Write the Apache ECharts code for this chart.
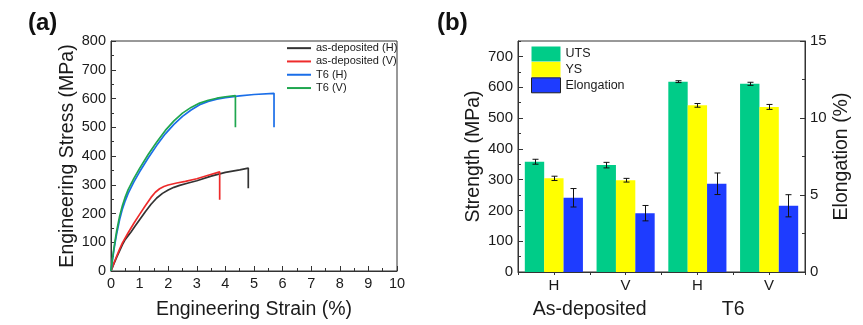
<!DOCTYPE html>
<html>
<head>
<meta charset="utf-8">
<script src="https://cdn.jsdelivr.net/npm/echarts@6/dist/echarts.min.js"></script>
<style>html,body{margin:0;padding:0;background:#fff}#c{width:863px;height:325px}</style>
</head>
<body>
<div id="c"></div>
<script>
// ---- Panel (a): stress-strain curves [strain %, stress MPa]
const asDepH = [[0,0],[0.1,25],[0.2,48],[0.3,70],[0.4,92],[0.5,110],[0.6,123],[0.7,136],[0.85,157],[1.0,178],[1.2,206],[1.4,232],[1.6,254],[1.8,270],[2.0,282],[2.2,291],[2.4,298],[2.7,306],[3.0,314],[3.5,330],[4.0,343],[4.5,352],[4.8,358],[4.8,288]];
const asDepV = [[0,0],[0.1,27],[0.2,52],[0.3,76],[0.4,98],[0.6,133],[0.8,166],[1.0,197],[1.2,227],[1.4,256],[1.55,274],[1.7,286],[1.85,294],[2.0,299],[2.3,306],[2.6,312],[3.0,321],[3.4,333],[3.8,345],[3.8,248]];
const t6H = [[0,0],[0.05,38],[0.1,72],[0.15,102],[0.2,130],[0.3,178],[0.4,216],[0.5,245],[0.6,270],[0.8,310],[1.0,345],[1.3,393],[1.6,437],[1.9,477],[2.2,510],[2.5,538],[2.8,560],[3.1,578],[3.4,590],[3.7,598],[4.0,603],[4.5,609],[5.0,614],[5.7,618],[5.7,500]];
const t6V = [[0,0],[0.05,42],[0.1,78],[0.15,110],[0.2,140],[0.3,190],[0.4,228],[0.5,258],[0.6,283],[0.8,322],[1.0,357],[1.3,405],[1.6,449],[1.9,489],[2.2,522],[2.5,549],[2.8,569],[3.1,584],[3.4,594],[3.7,601],[4.0,606],[4.35,610],[4.35,500]];
const lineNames = ['as-deposited (H)','as-deposited (V)','T6 (H)','T6 (V)'];

// ---- Panel (b): bar chart
const categories = ['H','V','H','V'];
const groups = ['As-deposited','T6'];
const uts = [358, 347, 618, 611];
const utsErr = [8, 9, 3, 5];
const ys = [304, 298, 541, 536];
const ysErr = [7, 6, 6, 8];
const elong = [4.82, 3.82, 5.73, 4.30];
const elongErr = [0.6, 0.5, 0.7, 0.72];
const barNames = ['UTS','YS','Elongation'];
const strengthTicks = [0,100,200,300,400,500,600,700];
const elongTicks = [0,5,10,15];

const FONT = 'Liberation Sans, Arial, sans-serif';
const TXT = '#1a1a1a';
const AX = '#333';

const chart = echarts.init(document.getElementById('c'), null, {renderer:'canvas'});

const CAT_GAP = 0.19;
function errSeries(name, vals, errs, k, yIdx){
  return {
    type:'custom', name: name, xAxisIndex:1, yAxisIndex:yIdx, z:5, silent:true,
    data: vals.map((v,i)=>[i, v, errs[i]]),
    encode:{x:0, y:1},
    renderItem:function(params, api){
      const i = api.value(0), v = api.value(1), e = api.value(2);
      const band = api.size([1,0])[0];
      const bw = band*(1-CAT_GAP)/3;
      const c = api.coord([i, v]);
      const x = Math.round(c[0] + (k-1)*bw) + 0.5;
      const t = api.coord([i, v+e])[1], b = api.coord([i, v-e])[1];
      const st = {stroke:'#111', lineWidth:1};
      return {type:'group', children:[
        {type:'line', shape:{x1:x,y1:t,x2:x,y2:b}, style:st},
        {type:'line', shape:{x1:x-3,y1:t,x2:x+3,y2:t}, style:st},
        {type:'line', shape:{x1:x-3,y1:b,x2:x+3,y2:b}, style:st}
      ]};
    }
  };
}

const lineColors = ['#333333','#EE2B2B','#1A6EE8','#1FA64F'];
const lineData = [asDepH, asDepV, t6H, t6V];

const option = {
  animation:false,
  textStyle:{fontFamily:FONT, color:TXT},
  graphic:[
    {type:'text', left:28, top:11, style:{text:'(a)', font:'bold 24px '+FONT, fill:'#111'}},
    {type:'text', left:437, top:11, style:{text:'(b)', font:'bold 24px '+FONT, fill:'#111'}}
  ],
  legend:[
    {data:lineNames, orient:'vertical', left:282, top:36.5, icon:'rect', itemWidth:24, itemHeight:2, itemGap:0,
     textStyle:{fontSize:11, lineHeight:13.3, color:TXT, fontFamily:FONT}, selectedMode:false},
    {data:[{name:'UTS'},{name:'YS'},{name:'Elongation', itemStyle:{borderColor:'#222', borderWidth:1}}],
     orient:'vertical', left:526, top:41.5, icon:'rect', itemWidth:29, itemHeight:15, itemGap:0.4,
     textStyle:{fontSize:12.5, color:TXT, fontFamily:FONT}, selectedMode:false}
  ],
  grid:[
    {left:111, top:41, width:286, height:230.5, show:true, borderColor:AX, borderWidth:1},
    {left:518, top:41, width:287, height:231, show:true, borderColor:AX, borderWidth:1}
  ],
  xAxis:[
    {type:'value', gridIndex:0, min:0, max:10, interval:1,
     axisLine:{show:true, lineStyle:{color:AX}}, axisTick:{show:true, inside:true, length:5, lineStyle:{color:AX}},
     minorTick:{show:true, splitNumber:2, length:3, lineStyle:{color:AX}}, splitLine:{show:false},
     axisLabel:{fontSize:14.5, margin:5, color:TXT, fontFamily:FONT},
     name:'Engineering Strain (%)', nameLocation:'middle', nameGap:29,
     nameTextStyle:{fontSize:19.5, color:TXT, fontFamily:FONT}},
    {type:'category', gridIndex:1, data:categories,
     axisLine:{show:true, lineStyle:{color:AX}}, axisTick:{show:true, length:3, lineStyle:{color:AX}},
     axisLabel:{fontSize:15, margin:6, color:TXT, fontFamily:FONT}},
    {type:'category', gridIndex:1, data:groups, position:'bottom',
     axisLine:{show:false}, axisTick:{show:false},
     axisLabel:{fontSize:19.5, margin:28, color:TXT, fontFamily:FONT, interval:0}},
    {type:'category', gridIndex:1, data:categories, position:'bottom',
     axisLine:{show:false}, axisTick:{show:true, alignWithLabel:true, length:3, lineStyle:{color:AX}},
     axisLabel:{show:false}}
  ],
  yAxis:[
    {type:'value', gridIndex:0, min:0, max:800, interval:100,
     axisLine:{show:true, lineStyle:{color:AX}}, axisTick:{show:true, inside:true, length:5, lineStyle:{color:AX}},
     minorTick:{show:true, splitNumber:2, length:3, lineStyle:{color:AX}}, splitLine:{show:false},
     axisLabel:{fontSize:14.5, margin:5, color:TXT, fontFamily:FONT},
     name:'Engineering Stress (MPa)', nameLocation:'middle', nameGap:33, nameRotate:90,
     nameTextStyle:{fontSize:19.5, color:TXT, fontFamily:FONT}},
    {type:'value', gridIndex:1, min:0, max:750, interval:100, position:'left',
     axisLine:{show:true, lineStyle:{color:AX}}, axisTick:{show:true, inside:true, length:5, lineStyle:{color:AX}},
     splitLine:{show:false},
     axisLabel:{fontSize:15, margin:5, color:TXT, fontFamily:FONT, showMaxLabel:false,
       formatter:function(v){return strengthTicks.indexOf(v)>=0 ? String(v) : '';}},
     name:'Strength (MPa)', nameLocation:'middle', nameGap:34, nameRotate:90,
     nameTextStyle:{fontSize:19.5, color:TXT, fontFamily:FONT}},
    {type:'value', gridIndex:1, min:0, max:15, interval:5, position:'right',
     axisLine:{show:true, lineStyle:{color:AX}}, axisTick:{show:true, inside:true, length:5, lineStyle:{color:AX}},
     minorTick:{show:true, splitNumber:2, length:3, lineStyle:{color:AX}}, splitLine:{show:false},
     axisLabel:{fontSize:15, margin:5, color:TXT, fontFamily:FONT,
       formatter:function(v){return elongTicks.indexOf(v)>=0 ? String(v) : '';}},
     name:'Elongation (%)', nameLocation:'middle', nameGap:27, nameRotate:90,
     nameTextStyle:{fontSize:19.5, color:TXT, fontFamily:FONT}},
    {type:'value', gridIndex:1, min:0, max:750, interval:50, position:'left',
     axisLine:{show:false}, axisTick:{show:true, inside:true, length:3, lineStyle:{color:AX}},
     splitLine:{show:false}, axisLabel:{show:false}}
  ],
  series:[
    ...lineData.map((d,i)=>({
      type:'line', name:lineNames[i], xAxisIndex:0, yAxisIndex:0, data:d,
      showSymbol:false, symbol:'none', color:lineColors[i],
      lineStyle:{width:1.7, color:lineColors[i]}, z:2+(i===3?1:0)
    })),
    {type:'bar', name:'UTS', xAxisIndex:1, yAxisIndex:1, data:uts, barGap:'0%', barCategoryGap:(CAT_GAP*100)+'%',
     itemStyle:{color:'#00CC88'}},
    {type:'bar', name:'YS', xAxisIndex:1, yAxisIndex:1, data:ys, barGap:'0%', barCategoryGap:(CAT_GAP*100)+'%',
     itemStyle:{color:'#FFFF00'}},
    {type:'bar', name:'Elongation', xAxisIndex:1, yAxisIndex:2, data:elong, barGap:'0%', barCategoryGap:(CAT_GAP*100)+'%',
     itemStyle:{color:'#1E3CFF'}},
    errSeries('utsErr', uts, utsErr, 0, 1),
    errSeries('ysErr', ys, ysErr, 1, 1),
    errSeries('elongErr', elong, elongErr, 2, 2)
  ]
};
chart.setOption(option);
</script>
</body>
</html>
